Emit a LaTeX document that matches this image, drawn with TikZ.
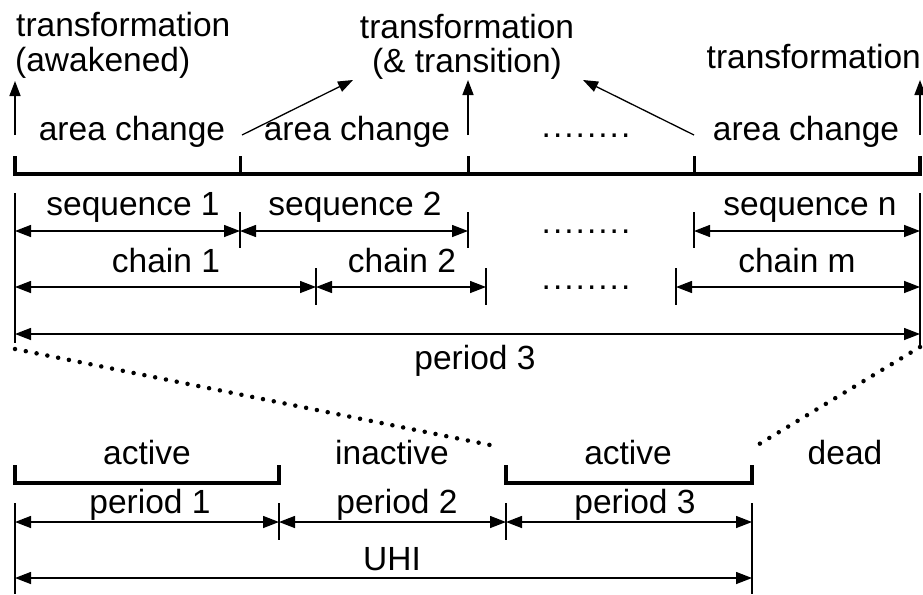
\documentclass[tikz,border=0pt]{standalone}
\usepackage{fontspec}
\setmainfont{Liberation Sans}
\usetikzlibrary{positioning,arrows.meta}

\begin{document}
\begin{tikzpicture}[
  x=1pt, y=-1pt,
  font=\fontsize{33.5}{40}\selectfont,
  lbl/.style={inner sep=0pt, anchor=base},
  gap/.style={lbl, font=\fontsize{33.5}{40}\selectfont\addfontfeature{LetterSpace=6}},
  bar/.style={line width=4.5pt, line join=miter},
  tick/.style={line width=3pt},
  ext/.style={line width=1.1pt},
  dim/.style={{Triangle[length=16pt,width=12pt]}-{Triangle[length=16pt,width=12pt]}, line width=1.4pt},
  up/.style={-{Triangle[length=15pt,width=11pt]}, line width=1.5pt},
  dotline/.style={line width=4.5pt, line cap=round, dash pattern=on 0pt off 11pt}
]
\useasboundingbox (0,0) rectangle (923,594);

% coordinates of the time line
\coordinate (a0) at (15,174);
\coordinate (a1) at (240,174);
\coordinate (a2) at (468,174);
\coordinate (a3) at (694,174);
\coordinate (a4) at (920,174);

% nodes
\node[lbl, anchor=base west] (trA) at (16,37) {transformation};
\node[lbl, anchor=base west] (awk) at (15,71) {(awakened)};
\node[lbl] (trB) at (467,38) {transformation};
\node[lbl] (trans) at (467,73) {(\& transition)};
\node[lbl, anchor=base east] (trC) at (921,68) {transformation};

\node[lbl] (ac1) at (132,140) {area change};
\node[lbl] (ac2) at (357,140) {area change};
\node[gap] (dotsA) at (586,137) {........};
\node[lbl] (ac3) at (806,140) {area change};

\node[lbl] (seq1) at (133,215) {sequence 1};
\node[lbl] (seq2) at (355,215) {sequence 2};
\node[gap] (dotsB) at (586,233) {........};
\node[lbl] (seqn) at (810,215) {sequence n};

\node[lbl] (ch1) at (166,272) {chain 1};
\node[lbl] (ch2) at (402,272) {chain 2};
\node[gap] (dotsC) at (586,289) {........};
\node[lbl] (chm) at (797,272) {chain m};

\node[lbl] (per) at (475,369) {period 3};

\node[lbl] (act1) at (147,464) {active};
\node[lbl] (inact) at (392,464) {inactive};
\node[lbl] (act2) at (628,464) {active};
\node[lbl] (dead) at (845,464) {dead};

\node[lbl] (p1) at (150,513) {period 1};
\node[lbl] (p2) at (397,513) {period 2};
\node[lbl] (p3) at (635,513) {period 3};
\node[lbl] (uhi) at (392,570) {UHI};

% thick time line
\draw[bar] (a0) ++(0,-18) -- (a0) -- (a4) -- ++(0,-18);
\draw[tick] (a1) -- ++(0,-18);
\draw[tick] (a2) -- ++(0,-18);
\draw[tick] (a3) -- ++(0,-18);

% arrows to the transformations
\draw[up] (15,135) -- (15,81);
\draw[up] (468,135) -- (468,80);
\draw[up] (920,135) -- (920,80);
\draw[up, line width=1.3pt] (242,135) -- (353,80);
\draw[up, line width=1.3pt] (694,135) -- (583,80);

% extension lines
\draw[ext] (15,193) -- (15,343);
\draw[ext] (920,193) -- (920,345);
\draw[ext] (240,212) -- (240,248);
\draw[ext] (468,212) -- (468,248);
\draw[ext] (694,212) -- (694,248);
\draw[ext] (316,268) -- (316,305);
\draw[ext] (486,268) -- (486,305);
\draw[ext] (676,268) -- (676,305);

% dimension arrows
\draw[dim] (15,231) -- (240,231);
\draw[dim] (240,231) -- (468,231);
\draw[dim] (694,231) -- (920,231);
\draw[dim] (15,287) -- (316,287);
\draw[dim] (316,287) -- (486,287);
\draw[dim] (676,287) -- (920,287);
\draw[dim] (15,334) -- (920,334);

% zoom to period 3
\draw[dotline] (15,349) -- (500,447);
\draw[dotline] (920,347) -- (751,449);

% life of the UHI
\draw[bar] (15,465) -- (15,483) -- (279,483) -- (279,465);
\draw[bar] (506,465) -- (506,483) -- (752,483) -- (752,465);
\draw[ext] (15,503) -- (15,594);
\draw[ext] (279,503) -- (279,540);
\draw[ext] (506,503) -- (506,540);
\draw[ext] (752,503) -- (752,594);
\draw[dim] (15,522) -- (279,522);
\draw[dim] (279,522) -- (506,522);
\draw[dim] (506,522) -- (752,522);
\draw[dim] (15,578) -- (752,578);

\end{tikzpicture}
\end{document}
